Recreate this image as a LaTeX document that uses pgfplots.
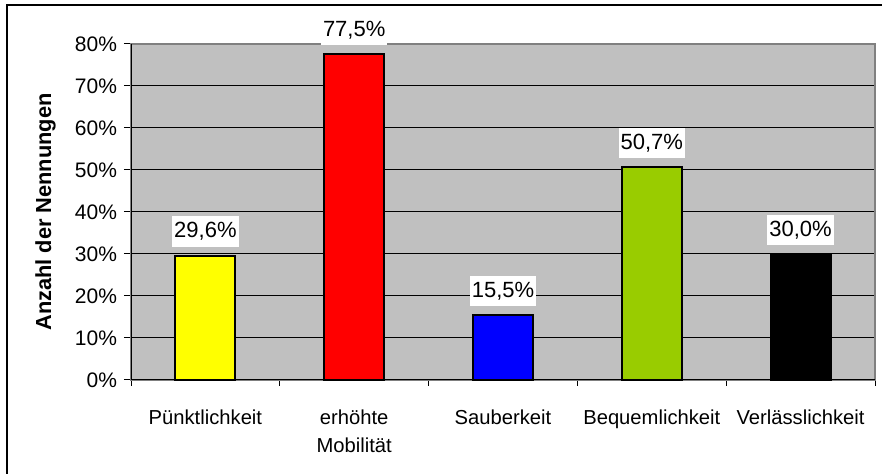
\documentclass[border=0pt]{standalone}
\usepackage{pgfplots}
\pgfplotsset{compat=1.18}
\usepackage{fontspec}
\setmainfont{Liberation Sans}
\definecolor{plotbg}{HTML}{C0C0C0}
\definecolor{frame}{HTML}{808080}
\definecolor{baryellow}{HTML}{FFFF00}
\definecolor{barred}{HTML}{FF0000}
\definecolor{barblue}{HTML}{0000FF}
\definecolor{bargreen}{HTML}{99CC00}
\pgfplotsset{/pgf/number format/assume math mode=true}
\begin{document}
\begin{tikzpicture}[x=1pt,y=1pt]
\useasboundingbox (0,0) rectangle (441,237);
\draw[line width=0.8pt] (3.5,-1) -- (3.5,234.5) -- (442,234.5);
\begin{axis}[
  at={(65.5pt,47pt)}, anchor=south west,
  width=372pt, height=168pt, scale only axis,
  xmin=-0.5, xmax=4.5, ymin=0, ymax=80,
  clip=false,
  axis background/.style={fill=plotbg},
  axis line style={draw=frame, line width=0.9pt},
  ybar, bar width=30pt, bar shift=0pt,
  xtick pos=bottom, ytick pos=left,
  xtick={0,1,2,3,4},
  xticklabels={Pünktlichkeit,{erhöhte\\Mobilität},Sauberkeit,Bequemlichkeit,Verlässlichkeit},
  xticklabel style={align=center, font=\fontsize{10.1}{14}\selectfont, anchor=north, yshift=-8pt},
  every major x tick/.append style={draw=none},
  minor xtick={-0.5,0.5,1.5,2.5,3.5,4.5},
  minor tick length=3pt,
  major tick length=3.5pt,
  tick align=outside,
  tick style={black, line width=0.5pt},
  ytick={0,10,...,80},
  yticklabel={\pgfmathprintnumber{\tick}\%},
  yticklabel style={font=\fontsize{10.5}{12.6}\selectfont},
  ymajorgrids,
  major grid style={black, line width=0.5pt},
  ylabel={Anzahl der Nennungen},
  ylabel style={font=\bfseries\fontsize{10.9}{13}\selectfont, at={(axis description cs:-0.115,0.5)}, anchor=center},
  nodes near coords={\pgfmathprintnumber[fixed,fixed zerofill,precision=1,use comma]{\pgfplotspointmeta}\%},
  every node near coord/.append style={fill=white, inner xsep=1pt, inner ysep=3pt, font=\fontsize{11}{13}\selectfont, anchor=south, yshift=4pt},
]
\addplot[fill=baryellow, draw=black, line width=1pt] coordinates {(0,29.6)};
\addplot[fill=barred, draw=black, line width=1pt] coordinates {(1,77.5)};
\addplot[fill=barblue, draw=black, line width=1pt] coordinates {(2,15.5)};
\addplot[fill=bargreen, draw=black, line width=1pt] coordinates {(3,50.7)};
\addplot[fill=black, draw=black, line width=1pt] coordinates {(4,30.0)};
\draw[black, line width=0.5pt] (rel axis cs:0,1) -- (rel axis cs:0,0) -- (rel axis cs:1,0);
\end{axis}
\end{tikzpicture}
\end{document}
